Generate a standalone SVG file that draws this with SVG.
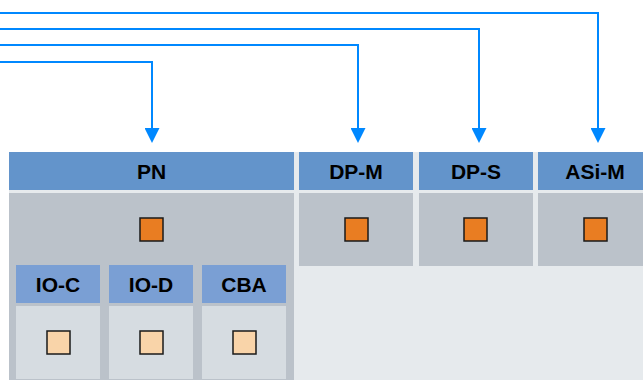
<svg xmlns="http://www.w3.org/2000/svg" width="643" height="380" viewBox="0 0 643 380">
<style>
.hdr{fill:#6394cb}
.sub{fill:#7a9fd4}
.body{fill:#bbc2ca}
.sbody{fill:#d6dce1}
.sq{fill:#e97d22;stroke:#1a1a1a;stroke-width:1.5}
.lsq{fill:#f9d4a9;stroke:#1a1a1a;stroke-width:1.5}
.lbl{font-family:"Liberation Sans",Arial,sans-serif;font-weight:bold;font-size:21px;fill:#000;text-anchor:middle}
.conn{fill:none;stroke:#0088ff;stroke-width:2}
</style>
<defs>
<marker id="arr" markerUnits="userSpaceOnUse" markerWidth="15" markerHeight="15" viewBox="0 0 15 15" refX="7" refY="7.5" orient="auto">
<path d="M0,0 L15,7.5 L0,15 z" fill="#0088ff"/>
</marker>
</defs>
<rect x="0" y="0" width="643" height="380" fill="#fff"/>
<rect x="9" y="152" width="634" height="228" fill="#e6eaed"/>
<g id="PN">
<rect class="hdr" x="9" y="152" width="285" height="38"/>
<text class="lbl" x="151.5" y="179">PN</text>
<rect class="body" x="9" y="193" width="285" height="187"/>
<rect class="sq" x="140" y="218" width="23" height="23"/>
</g>
<g id="IO-C">
<rect class="sub" x="16" y="265" width="84" height="38"/>
<text class="lbl" x="58" y="292">IO-C</text>
<rect class="sbody" x="16" y="306" width="84" height="73"/>
<rect class="lsq" x="47" y="331" width="23" height="23"/>
</g>
<g id="IO-D">
<rect class="sub" x="109" y="265" width="84" height="38"/>
<text class="lbl" x="151" y="292">IO-D</text>
<rect class="sbody" x="109" y="306" width="84" height="73"/>
<rect class="lsq" x="140" y="331" width="23" height="23"/>
</g>
<g id="CBA">
<rect class="sub" x="202" y="265" width="84" height="38"/>
<text class="lbl" x="244" y="292">CBA</text>
<rect class="sbody" x="202" y="306" width="84" height="73"/>
<rect class="lsq" x="233" y="331" width="23" height="23"/>
</g>
<g id="DP-M">
<rect class="hdr" x="299" y="152" width="114" height="38"/>
<text class="lbl" x="356" y="179">DP-M</text>
<rect class="body" x="299" y="193" width="114" height="73"/>
<rect class="sq" x="345" y="218" width="23" height="23"/>
</g>
<g id="DP-S">
<rect class="hdr" x="419" y="152" width="114" height="38"/>
<text class="lbl" x="476" y="179">DP-S</text>
<rect class="body" x="419" y="193" width="114" height="73"/>
<rect class="sq" x="464" y="218" width="23" height="23"/>
</g>
<g id="ASi-M">
<rect class="hdr" x="538" y="152" width="114" height="38"/>
<text class="lbl" x="595" y="179">ASi-M</text>
<rect class="body" x="538" y="193" width="114" height="73"/>
<rect class="sq" x="584" y="218" width="23" height="23"/>
</g>
<g id="connectors">
<path class="conn" d="M0,62 H152 V135" marker-end="url(#arr)"/>
<path class="conn" d="M0,45 H358 V135" marker-end="url(#arr)"/>
<path class="conn" d="M0,29 H479 V135" marker-end="url(#arr)"/>
<path class="conn" d="M0,13 H598 V135" marker-end="url(#arr)"/>
</g>
</svg>
